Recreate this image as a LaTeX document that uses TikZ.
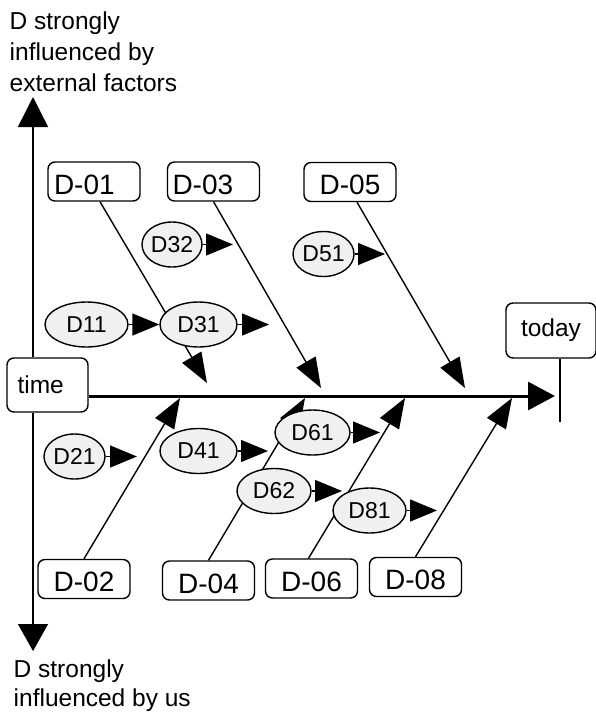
\documentclass[tikz,border=0pt]{standalone}
\usepackage{fontspec}
\setmainfont{Liberation Sans}
\usetikzlibrary{shapes.geometric, arrows.meta, calc}

\begin{document}
\begin{tikzpicture}[x=1pt, y=-1pt, line width=1.4pt,
  dbox/.style={draw, rounded corners=7pt, minimum width=92pt, minimum height=39pt,
    inner sep=0pt, text height=25pt, text depth=0pt, font=\fontsize{28}{30}\selectfont},
  cause/.style={draw, ellipse, fill=black!6, minimum height=45pt, inner sep=0pt,
    font=\fontsize{23}{25}\selectfont},
  lbl/.style={font=\fontsize{24.5}{31}\selectfont, align=left, inner sep=0pt},
  bigarr/.style={-{Triangle[length=30pt, width=22pt]}},
  smallarr/.style={-{Triangle[length=27pt, width=22pt]}}]
  \useasboundingbox (0,0) rectangle (596,713);
  % axis ends and arrow tips
  \coordinate (up) at (33,97);
  \coordinate (down) at (33,651);
  \coordinate (tip) at (555,396);
  \coordinate (now) at (560,422);
  \coordinate (a01) at (207,383);
  \coordinate (a03) at (321,388);
  \coordinate (a05) at (465,388);
  \coordinate (a02) at (180,398);
  \coordinate (a04) at (305,398);
  \coordinate (a06) at (405,398);
  \coordinate (a08) at (512,398);
  \node[dbox, minimum width=81pt, minimum height=54pt, text width=60pt, align=left,
    text height=, text depth=, font=\fontsize{24.5}{26}\selectfont] (time) at (47.5,385) {time};
  \node[dbox, minimum width=90pt, minimum height=55pt, text height=, text depth=,
    font=\fontsize{24.5}{26}\selectfont] (today) at (551,330.5) {today};
  \draw[-{Triangle[length=30pt, width=30pt]}] (time.north -| up) -- (up);
  \draw[-{Triangle[length=27pt, width=30pt]}] (time.south -| down) -- (down);
  \draw[line width=3pt, -{Triangle[length=27pt, width=28pt]}] (time.east |- tip) -- (tip);
  \draw (today.south -| now) -- (now);
  \node[lbl, anchor=north west] (ext) at (9,11) {D strongly\\influenced by\\external factors};
  \node[lbl, anchor=north west, font=\fontsize{24.5}{29}\selectfont] (us) at (13,659)
    {D strongly\\influenced by us};
  % D boxes
  \node[dbox, text width=80pt, align=left] (D01) at (94,181.5) {D-01};
  \node[dbox, text width=82pt, align=left] (D03) at (213.5,181.5) {D-03};
  \node[dbox] (D05) at (350,182) {D-05};
  \node[dbox] (D02) at (84,579) {D-02};
  \node[dbox] (D04) at (208.5,580.5) {D-04};
  \node[dbox] (D06) at (311.5,578.5) {D-06};
  \node[dbox] (D08) at (415.5,577) {D-08};
  \draw[bigarr] ($(D01.south)+(6,0)$) -- (a01);
  \draw[bigarr] (D03.south) -- (a03);
  \draw[bigarr] ($(D05.south)+(7,0)$) -- (a05);
  \draw[bigarr] (D02.north) -- (a02);
  \draw[bigarr] (D04.north) -- (a04);
  \draw[bigarr] ($(D06.north)+(-3,0)$) -- (a06);
  \draw[bigarr] (D08.north) -- (a08);
  % causes
  \node[cause, minimum width=60pt] (D32) at (172,244.5) {D32};
  \node[cause, minimum width=83pt] (D11) at (86.5,324.5) {D11};
  \node[cause, minimum width=77pt] (D31) at (198.5,324.5) {D31};
  \node[cause, minimum width=61pt] (D51) at (323.5,254) {D51};
  \node[cause, minimum width=61pt] (D21) at (74.5,456.5) {D21};
  \node[cause, minimum width=77pt] (D41) at (198.5,451) {D41};
  \node[cause, minimum width=75pt] (D61) at (312.5,432.5) {D61};
  \node[cause, minimum width=74pt] (D62) at (274,491) {D62};
  \node[cause, minimum width=73pt] (D81) at (369.5,510.5) {D81};
  \coordinate (x32) at (233,244.5);
  \coordinate (x31) at (269,324.5);
  \coordinate (x51) at (385,254);
  \coordinate (x21) at (137,456.5);
  \coordinate (x41) at (268,451);
  \coordinate (x61) at (380,432.5);
  \coordinate (x62) at (342,491);
  \coordinate (x81) at (437,510.5);
  \draw[smallarr] (D11) -- (D31);
  \foreach \c in {32,31,51,21,41,61,62,81}
    \draw[smallarr] (D\c.east) -- (x\c);
\end{tikzpicture}
\end{document}
